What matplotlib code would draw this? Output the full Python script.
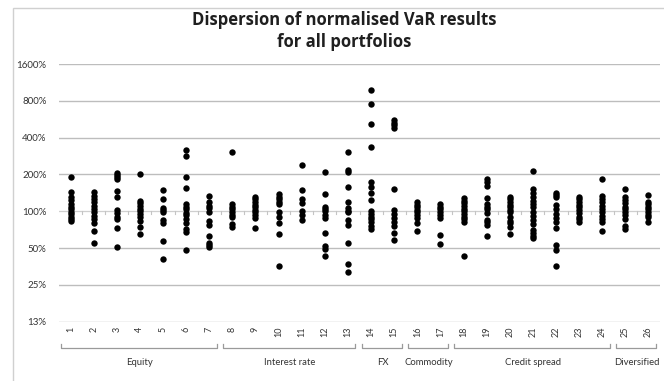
import matplotlib
matplotlib.use("Agg")
import matplotlib.pyplot as plt
import matplotlib.transforms as mtransforms
from matplotlib.patches import Rectangle
from matplotlib.ticker import FixedLocator, FuncFormatter

plt.rcParams['font.family'] = ['Lato', 'DejaVu Sans']

# normalised VaR (% of median) per portfolio
var_pct = [
    [192, 143, 132, 124, 115, 109, 104, 99, 95, 90, 87, 84],            # 1
    [143, 134, 126, 118, 111, 104, 98, 92, 87, 80, 69, 55],             # 2
    [204, 197, 190, 183, 147, 131, 103, 96, 90, 86, 73, 51],            # 3
    [200, 122, 116, 111, 105, 100, 95, 90, 84, 75, 65],                 # 4
    [149, 126, 106, 103, 99, 85, 80, 57, 41],                           # 5
    [317, 283, 192, 156, 115, 109, 104, 97, 93, 87, 80, 72, 68, 48],    # 6
    [133, 118, 111, 106, 99, 83, 77, 63, 55, 53, 51],                   # 7
    [303, 115, 109, 104, 99, 94, 89, 79, 74],                           # 8
    [132, 125, 119, 113, 108, 103, 98, 93, 88, 73],                     # 9
    [138, 132, 126, 120, 114, 99, 89, 80, 65, 36],                      # 10
    [237, 149, 127, 117, 101, 93, 85],                                  # 11
    [209, 138, 109, 104, 100, 93, 88, 66, 52, 49, 43],                  # 12
    [304, 217, 208, 159, 120, 106, 101, 98, 85, 77, 55, 37, 32],        # 13
    [980, 760, 518, 337, 172, 159, 140, 124, 101, 95, 90, 86, 81, 76, 72],  # 14
    [558, 530, 504, 479, 151, 103, 95, 88, 82, 76, 66, 58],             # 15
    [119, 113, 108, 103, 98, 93, 88, 80, 69],                           # 16
    [115, 109, 104, 99, 94, 88, 64, 54],                                # 17
    [129, 122, 116, 111, 105, 100, 95, 90, 86, 82, 43],                 # 18
    [184, 173, 162, 128, 115, 109, 104, 97, 85, 81, 77, 63],            # 19
    [132, 125, 119, 113, 108, 103, 98, 90, 84, 80, 75, 65],             # 20
    [215, 151, 140, 132, 122, 115, 108, 99, 92, 85, 79, 70, 66, 63, 60],  # 21
    [142, 136, 130, 113, 104, 95, 88, 82, 73, 53, 48, 36],              # 22
    [132, 125, 119, 113, 108, 103, 96, 90, 86, 82],                     # 23
    [185, 133, 125, 118, 111, 104, 98, 92, 86, 81, 69],                 # 24
    [151, 132, 124, 116, 109, 104, 99, 93, 87, 76, 72],                 # 25
    [136, 120, 115, 109, 104, 99, 94, 90, 81],                          # 26
]
portfolio_ids = list(range(1, 27))

group_names = ["Equity", "Interest rate", "FX", "Commodity", "Credit spread", "Diversified"]
group_first = [1, 8, 14, 16, 18, 25]
group_last = [7, 13, 15, 17, 24, 26]

y_ticks = [0.125, 0.25, 0.5, 1, 2, 4, 8, 16]

W, H = 664, 381
fig = plt.figure(figsize=(W / 100, H / 100), dpi=100)

# chart border like the excel chart area
fig.patches.append(Rectangle((13 / W, -0.05), 1.2, 1 - 8 / H + 0.05, transform=fig.transFigure,
                             facecolor="white", edgecolor="#d0d0d0", linewidth=1.0, zorder=-1))

ax = fig.add_axes([59 / W, 1 - 321.7 / H, 601 / W, 257.7 / H])
ax.set_facecolor("none")
ax.set_yscale("log", base=2)
ax.set_ylim(0.125, 16)
ax.set_xlim(0.5, 26.5)

for s in ax.spines.values():
    s.set_visible(False)

for t in y_ticks:
    if t != 1:
        ax.axhline(t, color="#bdbdbd", linewidth=1.0, zorder=1)
# category axis crosses at 100%
ax.axhline(1, color="#cfcfcf", linewidth=0.9, zorder=1)
for b in range(1, 27):
    ax.plot([b + 0.5, b + 0.5], [1, 0.955], color="#c4c4c4", linewidth=0.8, zorder=1)

for pid, vals in zip(portfolio_ids, var_pct):
    ax.plot([pid] * len(vals), [v / 100 for v in vals], "o", color="black",
            markersize=4.6, markeredgewidth=0, zorder=3)

ax.yaxis.set_major_locator(FixedLocator(y_ticks))
ax.yaxis.set_minor_locator(FixedLocator([]))
ax.yaxis.set_major_formatter(FuncFormatter(lambda v, p: f"{int(v * 100 + 0.5)}%"))
ax.tick_params(axis="y", length=0, pad=9, labelsize=7, labelcolor="#333333")

ax.set_xticks(portfolio_ids)
ax.set_xticklabels([str(i) for i in portfolio_ids], rotation=90, fontsize=6.5, color="#333333")
ax.tick_params(axis="x", length=0, pad=3.5)
ax.xaxis.set_minor_locator(FixedLocator([]))

# group brackets under the category labels
trans = mtransforms.blended_transform_factory(ax.transData, ax.transAxes)
for name, a, b in zip(group_names, group_first, group_last):
    x0, x1 = a - 0.4, b + 0.32
    ax.plot([x0, x0, x1, x1], [-0.087, -0.101, -0.101, -0.087], color="#9a9a9a",
            linewidth=0.9, transform=trans, clip_on=False)
    ax.text((a + b) / 2, -0.157, name, transform=trans, ha="center", va="center",
            fontsize=6.8, color="#333333")

fig.text(344 / W, 1 - 31 / H, "Dispersion of normalised VaR results\nfor all portfolios",
         ha="center", va="center", fontsize=12, fontweight="bold", color="#1f1f1f",
         family=["Open Sans", "DejaVu Sans"], linespacing=1.25)

fig.savefig("out.png", dpi=100)
